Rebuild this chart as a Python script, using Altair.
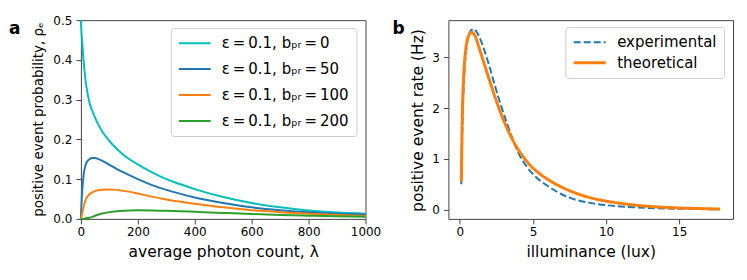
import altair as alt
import pandas as pd

# ---------- panel a data ----------
lam = [0, 2, 5, 10, 15, 20, 30, 40, 50, 60, 75, 100, 125, 150, 200, 250, 300, 350, 400, 500, 600, 700, 800, 900, 1000]
p_b0 = [0.5, 0.47, 0.44, 0.392, 0.357, 0.33, 0.293, 0.272, 0.254, 0.239, 0.22, 0.196, 0.177, 0.161, 0.137, 0.117, 0.1, 0.087, 0.075, 0.055, 0.04, 0.029, 0.021, 0.016, 0.013]
p_b50 = [0.0, 0.035, 0.075, 0.113, 0.132, 0.142, 0.15, 0.153, 0.153, 0.151, 0.146, 0.136, 0.126, 0.117, 0.1, 0.085, 0.073, 0.063, 0.054, 0.04, 0.029, 0.022, 0.017, 0.013, 0.011]
p_b100 = [0.0, 0.006, 0.016, 0.032, 0.044, 0.053, 0.062, 0.067, 0.07, 0.072, 0.0735, 0.074, 0.073, 0.0705, 0.064, 0.056, 0.049, 0.043, 0.038, 0.029, 0.022, 0.017, 0.013, 0.01, 0.0075]
p_b200 = [0.0, 0.0, 0.0001, 0.0004, 0.001, 0.0018, 0.003, 0.005, 0.008, 0.0105, 0.0135, 0.017, 0.0192, 0.0205, 0.0215, 0.0213, 0.0205, 0.0195, 0.018, 0.015, 0.0122, 0.01, 0.0082, 0.0065, 0.0052]
series_a = ["ε\u2009=\u20090.1, bₚᵣ\u2009=\u20090",
            "ε\u2009=\u20090.1, bₚᵣ\u2009=\u200950",
            "ε\u2009=\u20090.1, bₚᵣ\u2009=\u2009100",
            "ε\u2009=\u20090.1, bₚᵣ\u2009=\u2009200"]
colors_a = ["#00bfbf", "#1f77b4", "#ff7f0e", "#2ca02c"]
x_ticks_a = [0, 200, 400, 600, 800, 1000]
y_ticks_a = [0.0, 0.1, 0.2, 0.3, 0.4, 0.5]

# ---------- panel b data ----------
lux = [0.1, 0.15, 0.2, 0.3, 0.4, 0.5, 0.65, 0.8, 0.95, 1.1, 1.3, 1.6, 2.0, 2.4, 2.8, 3.2, 3.6, 4.0, 4.5, 5.0, 5.5, 6, 7, 8, 9, 10, 11, 12, 13, 14, 15, 16, 17, 17.8]
rate_exp = [0.5, 1.3, 1.95, 2.65, 3.05, 3.3, 3.47, 3.54, 3.56, 3.52, 3.42, 3.2, 2.84, 2.44, 2.06, 1.72, 1.4, 1.12, 0.88, 0.7, 0.57, 0.47, 0.3, 0.19, 0.13, 0.09, 0.065, 0.048, 0.035, 0.026, 0.02, 0.015, 0.012, 0.01]
rate_theo = [0.55, 1.6, 2.2, 2.83, 3.15, 3.33, 3.45, 3.49, 3.46, 3.38, 3.2, 2.93, 2.57, 2.22, 1.9, 1.62, 1.38, 1.18, 0.98, 0.82, 0.7, 0.6, 0.44, 0.32, 0.23, 0.17, 0.125, 0.09, 0.065, 0.048, 0.035, 0.026, 0.019, 0.015]
series_b = ["experimental", "theoretical"]
colors_b = ["#1f77b4", "#ff7f0e"]
x_ticks_b = [0, 5, 10, 15]
y_ticks_b = [0, 1, 2, 3]

panel_labels = ["a", "b"]

rows_a = []
for name, vals in zip(series_a, [p_b0, p_b50, p_b100, p_b200]):
    for l, v in zip(lam, vals):
        rows_a.append({"lam": l, "p": v, "series": name})
df_a = pd.DataFrame(rows_a)

rows_b = []
for name, vals in zip(series_b, [rate_exp, rate_theo]):
    for x, v in zip(lux, vals):
        rows_b.append({"lux": x, "rate": v, "series": name})
df_b = pd.DataFrame(rows_b)

W, H = 285, 199

legend_common = dict(
    title=None, orient="none", symbolType="stroke", symbolSize=1024,
    labelOffset=10, strokeColor="#cccccc", cornerRadius=3, clipHeight=16,
    fillColor="rgba(255,255,255,0.8)", labelColor="#000000", labelFont="DejaVu Sans",
)
legend_b = dict(legendX=117, legendY=7, labelFontSize=15, rowPadding=4.6, padding=7,
                **legend_common)

lines_a = alt.Chart(df_a).mark_line(strokeWidth=2, interpolate="monotone").encode(
    x=alt.X("lam:Q", scale=alt.Scale(domain=[0, 1000], nice=False, zero=False),
            axis=alt.Axis(values=x_ticks_a, title="average photon count, λ", format="d")),
    y=alt.Y("p:Q", scale=alt.Scale(domain=[0, 0.5], nice=False),
            axis=alt.Axis(values=y_ticks_a, format=".1f", title="positive event probability, ρₑ",
                          titleX=-38, titleY=99, titleFontSize=13.5)),
    color=alt.Color("series:N", scale=alt.Scale(domain=series_a, range=colors_a),
                    legend=alt.Legend(legendX=90, legendY=8, labelFontSize=15,
                                      symbolStrokeWidth=2, rowPadding=10, padding=7,
                                      **legend_common)),
)
label_a = alt.Chart(pd.DataFrame({"t": [panel_labels[0]]})).mark_text(
    fontSize=17, fontWeight="bold", align="left", baseline="alphabetic", color="#000"
).encode(text="t:N", x=alt.value(-72), y=alt.value(14))
left = alt.layer(lines_a, label_a).properties(width=W, height=H)

lines_b = alt.Chart(df_b).mark_line(interpolate="monotone").encode(
    x=alt.X("lux:Q", scale=alt.Scale(domain=[-0.785, 18.685], nice=False, zero=False),
            axis=alt.Axis(values=x_ticks_b, title="illuminance (lux)", format="d")),
    y=alt.Y("rate:Q", scale=alt.Scale(domain=[-0.18, 3.73], nice=False, zero=False),
            axis=alt.Axis(values=y_ticks_b, format="d", title="positive event rate (Hz)",
                          titleX=-26, titleY=100)),
    color=alt.Color("series:N", scale=alt.Scale(domain=series_b, range=colors_b),
                    legend=alt.Legend(**legend_b)),
    strokeDash=alt.StrokeDash("series:N", scale=alt.Scale(domain=series_b, range=[[7, 3], [1, 0]]),
                              legend=alt.Legend(**legend_b)),
    strokeWidth=alt.StrokeWidth("series:N", scale=alt.Scale(domain=series_b, range=[2, 3]),
                                legend=alt.Legend(**legend_b)),
)
label_b = alt.Chart(pd.DataFrame({"t": [panel_labels[1]]})).mark_text(
    fontSize=17, fontWeight="bold", align="left", baseline="alphabetic", color="#000"
).encode(text="t:N", x=alt.value(-56), y=alt.value(14))
right = alt.layer(lines_b, label_b).properties(width=W, height=H)

chart = alt.hconcat(left, right, spacing=83, bounds="flush").resolve_scale(
    color="independent", strokeDash="independent", strokeWidth="independent"
).resolve_legend(
    color="independent", strokeDash="independent", strokeWidth="independent"
).properties(
    padding={"left": 0, "top": 5, "right": 5, "bottom": 5}
).configure(
    font="DejaVu Sans"
).configure_view(
    stroke="#444444", strokeWidth=1
).configure_axis(
    labelFont="DejaVu Sans", labelFontSize=12, labelColor="#000000", labelFlush=False,
    titleFont="DejaVu Sans", titleFontSize=15.5, titleFontWeight="normal", titleColor="#000000",
    tickColor="#444444", tickSize=5, tickWidth=1, domain=False, grid=False,
).configure_axisX(
    labelPadding=3, titleY=38, titleBaseline="alphabetic",
).configure_axisY(
    labelPadding=4, titleAngle=270, titleBaseline="alphabetic", titleAlign="center",
)

chart.save("out.html", embed_options={"renderer": "svg", "actions": False})
